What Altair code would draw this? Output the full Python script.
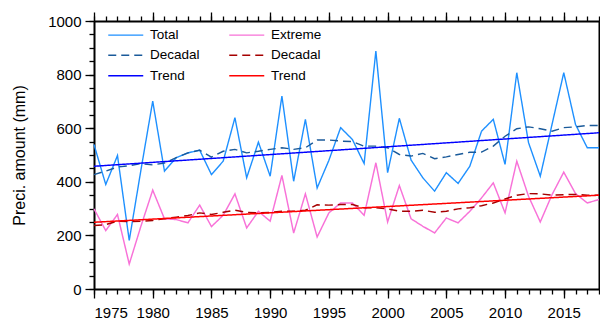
import altair as alt
import pandas as pd

years = list(range(1975, 2019))
total = [539, 390, 498, 181, 445, 701, 440, 490, 508, 518, 427, 477, 639, 415, 548,
         421, 720, 402, 633, 377, 480, 602, 558, 468, 888, 434, 637, 481, 415, 365,
         434, 394, 458, 589, 633, 465, 807, 546, 421, 614, 807, 614, 527, 527]
total_dec = [427, 440, 455, 460, 468, 463, 470, 490, 508, 518, 492, 514, 521, 508, 514,
             521, 527, 521, 527, 556, 556, 552, 550, 533, 533, 527, 502, 496, 506, 486,
             493, 502, 510, 511, 533, 570, 598, 605, 598, 589, 602, 605, 610, 610]
extreme = [299, 218, 278, 93, 235, 369, 262, 259, 247, 313, 233, 275, 355, 228, 290,
           253, 424, 209, 355, 194, 284, 321, 321, 275, 471, 250, 386, 262, 234, 209,
           265, 247, 290, 340, 396, 284, 477, 346, 250, 352, 436, 356, 321, 334]
extreme_dec = [237, 240, 253, 252, 253, 256, 262, 268, 274, 284, 278, 286, 294, 286, 284,
               286, 290, 290, 294, 314, 313, 315, 315, 303, 303, 299, 290, 290, 294, 286,
               290, 299, 303, 311, 321, 336, 350, 356, 355, 350, 352, 353, 350, 350]
trend_years = [1975, 2018]
total_trend = [458, 583]
extreme_trend = [249, 350]

keys = ["Total", "Decadal (total)", "Trend (total)",
        "Extreme", "Decadal (extreme)", "Trend (extreme)"]
colors = ["#1E90FF", "#1A5A9A", "#0000FF", "#F872D8", "#A50000", "#FF0000"]
dashes = [[1, 0], [8, 5], [1, 0], [1, 0], [8, 5], [1, 0]]
widths = [1.4, 1.5, 2.2, 1.2, 1.5, 2.2]

rows = []
for name, xs, ys in [
    ("Total", years, total),
    ("Extreme", years, extreme),
    ("Decadal (total)", years, total_dec),
    ("Decadal (extreme)", years, extreme_dec),
    ("Trend (total)", trend_years, total_trend),
    ("Trend (extreme)", trend_years, extreme_trend),
]:
    for x, y in zip(xs, ys):
        rows.append({"year": x, "value": y, "key": name})
df = pd.DataFrame(rows)

FONT = "Liberation Sans"
xscale = alt.Scale(domain=[1975, 2018], nice=False, zero=False)
yscale = alt.Scale(domain=[0, 1000], nice=False)
major_x = list(range(1975, 2019, 5))
minor_x = years
major_y = list(range(0, 1001, 200))
minor_y = list(range(0, 1001, 50))


def ax(orient, values, size, labels, domain, pad=4):
    kw = dict(orient=orient, values=values, tickSize=size, labels=labels, domain=domain,
              grid=False, title=None, tickColor="black", tickWidth=1.3, format="d",
              domainColor="black", domainWidth=2, labelFont=FONT, labelFontSize=15,
              labelColor="black", labelPadding=pad)
    return alt.Axis(**kw)


legend_kw = dict(title=None, orient="none", legendX=25, legendY=7,
                 columns=2, columnPadding=26, rowPadding=5.5,
                 symbolType="M-3.5,0H3.5", symbolSize=100,
                 symbolStrokeWidth=1.5, labelFont=FONT,
                 labelFontSize=13.5, labelColor="black",
                 labelOffset=17.5, padding=0,
                 labelExpr="split(datum.label, ' (')[0]")

base = alt.Chart(df)

lines = base.mark_line().encode(
    x=alt.X("year:Q", scale=xscale,
            axis=ax("bottom", major_x, 9, True, True, pad=7)),
    y=alt.Y("value:Q", scale=yscale,
            axis=alt.Axis(orient="left", values=major_y, tickSize=9, labels=True, domain=True,
                          grid=False, title="Preci. amount (mm)", titleFont=FONT,
                          titleFontSize=16, titleFontWeight="normal", titleColor="black",
                          titlePadding=20, tickColor="black", tickWidth=1.3, format="d",
                          domainColor="black", domainWidth=2, labelFont=FONT,
                          labelFontSize=15, labelColor="black", labelPadding=4)),
    color=alt.Color("key:N", scale=alt.Scale(domain=keys, range=colors),
                    legend=alt.Legend(**legend_kw)),
    strokeDash=alt.StrokeDash("key:N", scale=alt.Scale(domain=keys, range=dashes),
                              legend=alt.Legend(**legend_kw)),
    strokeWidth=alt.StrokeWidth("key:N", scale=alt.Scale(domain=keys, range=widths),
                                legend=None),
)


def ghost(xo, xv, xs, yo, yv, ys, labels=False, domain=False):
    return base.mark_line(opacity=0).encode(
        x=alt.X("year:Q", scale=xscale, axis=ax(xo, xv, xs, labels, domain)),
        y=alt.Y("value:Q", scale=yscale, axis=ax(yo, yv, ys, labels, domain)),
        detail="key:N",
    )


minor = ghost("bottom", minor_x, 5, "left", minor_y, 5)
top_major = ghost("top", major_x, 9, "right", major_y, 9, domain=True)
top_minor = ghost("top", minor_x, 5, "right", minor_y, 5)

chart = alt.layer(lines, minor, top_major, top_minor).resolve_axis(
    x="independent", y="independent"
).properties(
    width=505, height=268,
    autosize=alt.AutoSizeParams(type="none"),
    padding={"left": 94, "top": 21, "right": 1, "bottom": 36},
    background="white",
).configure_view(stroke=None)

chart.save("out.html", embed_options={"renderer": "svg", "actions": False})
